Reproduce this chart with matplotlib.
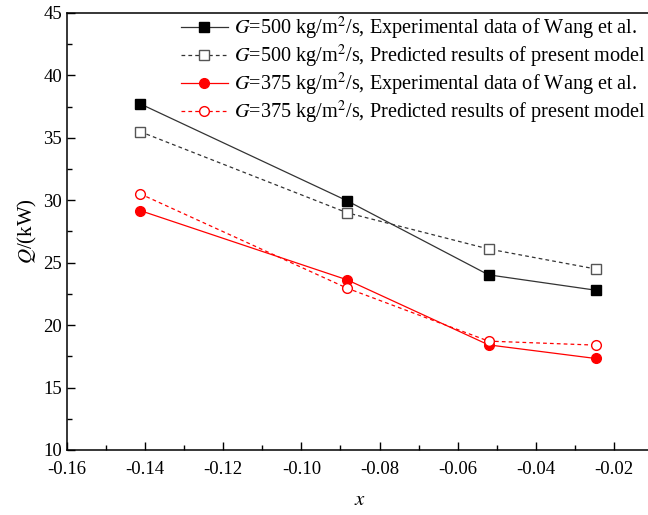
import matplotlib
matplotlib.use('Agg')
import matplotlib.pyplot as plt
from matplotlib.ticker import MultipleLocator

plt.rcParams['font.family'] = ['Liberation Serif', 'DejaVu Serif']
plt.rcParams['mathtext.fontset'] = 'stix'

# vapour quality points
x = [-0.1413, -0.0883, -0.0521, -0.0247]

# heat load Q (kW)
q500_exp = [37.73, 29.96, 24.03, 22.8]
q500_pred = [35.5, 29.0, 26.1, 24.5]
q375_exp = [29.18, 23.63, 18.42, 17.33]
q375_pred = [30.52, 22.96, 18.72, 18.4]

labels = [r'$G$=500 kg/m$^{2}$/s, Experimental data of Wang et al.',
          r'$G$=500 kg/m$^{2}$/s, Predicted results of present model',
          r'$G$=375 kg/m$^{2}$/s, Experimental data of Wang et al.',
          r'$G$=375 kg/m$^{2}$/s, Predicted results of present model']

fig = plt.figure(figsize=(6.48, 5.15), dpi=100)
ax = fig.add_axes([67/648, 1-450/515, 586/648, 437/515])

dash = (3, 2.5)
ax.plot(x, q500_exp, color='#333333', lw=0.9, marker='s', ms=6.5,
        mfc='black', mec='black', label=labels[0])
ax.plot(x, q500_pred, color='#333333', lw=0.9, ls='--', dashes=dash, marker='s', ms=6.5,
        mfc='white', mec='#555555', mew=1.0, label=labels[1])
ax.plot(x, q375_exp, color='#ff0000', lw=0.9, marker='o', ms=7,
        mfc='#ff0000', mec='#ff0000', label=labels[2])
ax.plot(x, q375_pred, color='#ff0000', lw=0.9, ls='--', dashes=dash, marker='o', ms=7,
        mfc='white', mec='#ff0000', mew=1.0, label=labels[3])

ax.set_xlim(-0.16, -0.01)
ax.set_ylim(10, 45)
ax.xaxis.set_major_locator(MultipleLocator(0.02))
ax.xaxis.set_minor_locator(MultipleLocator(0.01))
ax.yaxis.set_major_locator(MultipleLocator(5))
ax.yaxis.set_minor_locator(MultipleLocator(2.5))
ax.xaxis.set_major_formatter(plt.FuncFormatter(lambda v, p: '%.2f' % v))
ax.tick_params(which='both', direction='in', labelsize=13.5, width=1.0)
ax.tick_params(which='major', length=6)
ax.tick_params(which='minor', length=3.5)
ax.tick_params(axis='x', pad=8)
for s in ax.spines.values():
    s.set_linewidth(1.1)

ax.set_xlabel(r'$x$', fontsize=15, labelpad=9)
ax.set_ylabel(r'$Q$/(kW)', fontsize=15, labelpad=3)

ax.legend(loc='upper left', bbox_to_anchor=(181/648, 1-15/515),
          bbox_transform=fig.transFigure, frameon=False, fontsize=14.6,
          handlelength=2.3, handletextpad=0.3, labelspacing=0.05,
          borderpad=0, borderaxespad=0)

fig.savefig('out.png', dpi=100)
